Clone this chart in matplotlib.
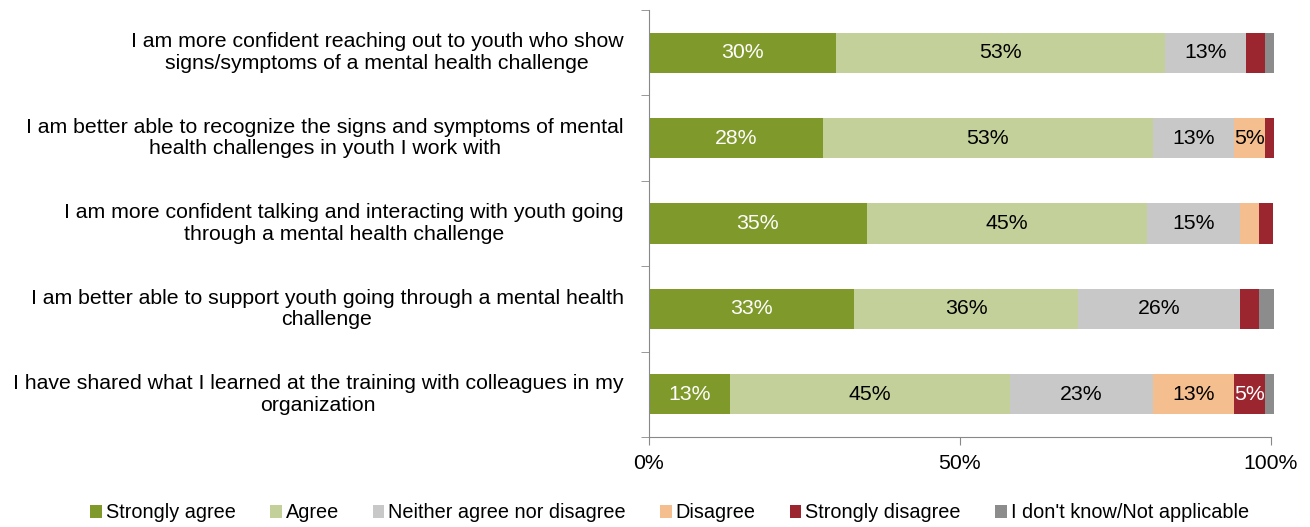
import matplotlib.pyplot as plt
import matplotlib.transforms as mtransforms
import numpy as np

plt.rcParams['font.family'] = ['Liberation Sans', 'DejaVu Sans']

# survey statements, top to bottom
statements = [
    "I am more confident reaching out to youth who show\nsigns/symptoms of a mental health challenge",
    "I am better able to recognize the signs and symptoms of mental\nhealth challenges in youth I work with",
    "I am more confident talking and interacting with youth going\nthrough a mental health challenge",
    "I am better able to support youth going through a mental health\nchallenge",
    "I have shared what I learned at the training with colleagues in my\norganization",
]

categories = ["Strongly agree", "Agree", "Neither agree nor disagree",
              "Disagree", "Strongly disagree", "I don't know/Not applicable"]

# percentages per statement for each answer
strongly_agree = [30, 28, 35, 33, 13]
agree = [53, 53, 45, 36, 45]
neither = [13, 13, 15, 26, 23]
disagree = [0, 5, 3, 0, 13]
strongly_disagree = [3, 1.5, 2.4, 3, 5]
dont_know = [1.5, 0, 0, 2.5, 1.5]

series = [strongly_agree, agree, neither, disagree, strongly_disagree, dont_know]
colors = ['#7F9A2B', '#C3D09A', '#C8C8C8', '#F4BE8E', '#9B2630', '#8C8C8C']
text_colors = ['white', 'black', 'black', 'black', 'white', 'black']

fs = 15.3

fig = plt.figure(figsize=(13.1, 5.27), dpi=100)
ax = fig.add_axes([0.4954, 0.1708, 0.4748, 0.8102])

y = np.arange(len(statements))
left = np.zeros(len(statements))
for vals, col, tcol, name in zip(series, colors, text_colors, categories):
    vals = np.array(vals, dtype=float)
    ax.barh(y, vals, left=left, height=0.47, color=col, label=name, clip_on=False)
    for yi, v, l in zip(y, vals, left):
        if v >= 5:
            ax.text(l + v / 2, yi, f"{v:.0f}%", ha='center', va='center',
                    color=tcol, fontsize=fs)
    left += vals

ax.set_xlim(0, 100)
ax.set_ylim(len(statements) - 0.5, -0.5)
ax.set_xticks([0, 50, 100])
ax.set_xticklabels(['0%', '50%', '100%'], fontsize=fs)
ax.set_yticks([])
ax.set_yticks(np.arange(-0.5, len(statements)), minor=True)
ax.tick_params(axis='y', which='minor', length=6, color='#888888')
ax.tick_params(axis='x', length=6, color='#888888', pad=6)

# statement labels, right edge near the axis, lines centred on each other
trans = mtransforms.blended_transform_factory(fig.transFigure, ax.transData)
for yi, s in zip(y, statements):
    ax.text(0.476, yi, s, transform=trans, ha='right', va='center',
            multialignment='center', fontsize=fs, linespacing=1.18)

for s in ['top', 'right']:
    ax.spines[s].set_visible(False)
for s in ['left', 'bottom']:
    ax.spines[s].set_color('#888888')

fig.legend(loc='lower center', bbox_to_anchor=(0.511, -0.025), ncol=6,
           frameon=False, fontsize=14.3, handlelength=0.6, handleheight=0.6,
           handletextpad=0.2, columnspacing=1.7)

fig.savefig('out.png', dpi=100)
